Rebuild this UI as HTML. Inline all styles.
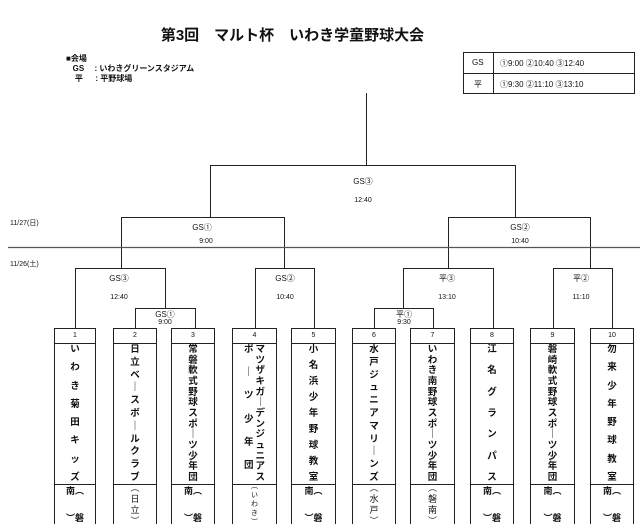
<!DOCTYPE html>
<html><head><meta charset="utf-8">
<style>
html,body{margin:0;padding:0;background:#fff;}
body{width:640px;height:532px;position:relative;overflow:hidden;font-family:"Liberation Sans","Noto Sans CJK JP",sans-serif;color:#111;}
.t{position:absolute;white-space:nowrap;}
.c{position:absolute;transform:translateX(-50%);white-space:nowrap;font-size:7px;}
.box{position:absolute;top:328px;width:42px;height:196px;border:1px solid #222;border-bottom:none;box-sizing:border-box;}
.hd{height:14px;border-bottom:1px solid #222;font-size:7px;text-align:center;line-height:14px;}
.nm{height:141px;border-bottom:1px solid #222;display:flex;flex-direction:column;justify-content:space-between;align-items:center;font-size:9.5px;font-weight:bold;line-height:10px;padding:1px 0;box-sizing:border-box;}
.ft{height:40px;display:flex;flex-direction:column;justify-content:space-between;align-items:center;font-size:9px;font-weight:bold;line-height:10px;padding:1px 0 2px;box-sizing:border-box;}
.ft.p{justify-content:center;gap:1px;font-weight:normal;}
</style></head><body>
<div class="t" style="left:0;width:585px;text-align:center;top:24px;font-size:15px;font-weight:bold;">第3回　マルト杯　いわき学童野球大会</div>
<div class="t" style="left:66px;top:54px;font-size:8px;line-height:10px;font-weight:bold;">■会場<br>&nbsp;&nbsp;&nbsp;GS　&nbsp;: いわきグリーンスタジアム<br>&nbsp;&nbsp;&nbsp;&nbsp;平　&nbsp;&nbsp;: 平野球場</div>
<div style="position:absolute;left:463px;top:52px;width:172px;height:42px;border:1px solid #222;box-sizing:border-box;">
 <div style="position:absolute;left:29px;top:0;bottom:0;border-left:1px solid #222;"></div>
 <div style="position:absolute;left:0;right:0;top:20px;border-top:1px solid #222;"></div>
 <div class="t" style="left:8px;top:5px;font-size:8px;">GS</div>
 <div class="t" style="left:36px;top:5px;font-size:8px;">①9:00 ②10:40 ③12:40</div>
 <div class="t" style="left:10px;top:26px;font-size:8px;">平</div>
 <div class="t" style="left:36px;top:26px;font-size:8px;">①9:30 ②11:10 ③13:10</div>
</div>
<svg width="640" height="532" style="position:absolute;left:0;top:0" fill="none" stroke="#222" stroke-width="1">
<path d="M366.5 93V165.5M210.5 217V165.5H515.5V217"/>
<path d="M121.5 268V217.5H284.5V268M448.5 268V217.5H590.5V268"/>
<path d="M8 247.5H640" stroke="#555" stroke-width="1.3"/>
<path d="M75.5 328V268.5H165.5V308M255.5 328V268.5H314.5V328M403.5 308V268.5H493.5V328M553.5 328V268.5H612.5V328"/>
<path d="M135.5 328V308.5H195.5V328M374.5 328V308.5H433.5V328"/>
</svg>
<div class="t" style="left:10px;top:218px;font-size:7px;">11/27(日)</div>
<div class="t" style="left:10px;top:259px;font-size:7px;">11/26(土)</div>
<div class="c" style="left:363px;top:176px;font-size:8px;">GS③</div><div class="c" style="left:363px;top:197px;">12:40</div>
<div class="c" style="left:202px;top:222px;font-size:8px;">GS①</div><div class="c" style="left:206px;top:238px;">9:00</div>
<div class="c" style="left:520px;top:222px;font-size:8px;">GS②</div><div class="c" style="left:520px;top:238px;">10:40</div>
<div class="c" style="left:119px;top:273px;font-size:8px;">GS③</div><div class="c" style="left:119px;top:294px;">12:40</div>
<div class="c" style="left:285px;top:273px;font-size:8px;">GS②</div><div class="c" style="left:285px;top:294px;">10:40</div>
<div class="c" style="left:447px;top:273px;font-size:8px;">平③</div><div class="c" style="left:447px;top:294px;">13:10</div>
<div class="c" style="left:581px;top:273px;font-size:8px;">平②</div><div class="c" style="left:581px;top:294px;">11:10</div>
<div class="c" style="left:165px;top:309px;font-size:8px;">GS①</div><div class="c" style="left:165px;top:319px;">9:00</div>
<div class="c" style="left:404px;top:309px;font-size:8px;">平①</div><div class="c" style="left:404px;top:319px;">9:30</div>

<div class="box" style="left:54px"><div class="hd">1</div><div class="nm"><span>い</span><span>わ</span><span>き</span><span>菊</span><span>田</span><span>キ</span><span>ッ</span><span>ズ</span></div><div class="ft"><span>南︵</span><span>︶磐</span></div></div>
<div class="box" style="left:113px;width:44px"><div class="hd">2</div><div class="nm"><span>日</span><span>立</span><span>ベ</span><span>｜</span><span>ス</span><span>ボ</span><span>｜</span><span>ル</span><span>ク</span><span>ラ</span><span>ブ</span></div><div class="ft p"><span>︵</span><span>日</span><span>立</span><span>︶</span></div></div>
<div class="box" style="left:171px;width:44px"><div class="hd">3</div><div class="nm"><span>常</span><span>磐</span><span>軟</span><span>式</span><span>野</span><span>球</span><span>ス</span><span>ポ</span><span>｜</span><span>ツ</span><span>少</span><span>年</span><span>団</span></div><div class="ft"><span>南︵</span><span>︶磐</span></div></div>
<div class="box" style="left:232px;width:45px"><div class="hd">4</div><div class="nm" style="flex-direction:row;justify-content:center;align-items:stretch;gap:2px"><div style="display:flex;flex-direction:column;justify-content:space-between;align-items:center;padding-bottom:12px"><span>ポ</span><span>｜</span><span>ツ</span><span>少</span><span>年</span><span>団</span></div><div style="display:flex;flex-direction:column;justify-content:space-between;align-items:center"><span>マ</span><span>ツ</span><span>ザ</span><span>キ</span><span>ガ</span><span>｜</span><span>デ</span><span>ン</span><span>ジ</span><span>ュ</span><span>ニ</span><span>ア</span><span>ス</span></div></div><div class="ft p" style="font-size:7px;line-height:8px"><span>︵</span><span>い</span><span>わ</span><span>き</span><span>︶</span></div></div>
<div class="box" style="left:291px;width:45px"><div class="hd">5</div><div class="nm"><span>小</span><span>名</span><span>浜</span><span>少</span><span>年</span><span>野</span><span>球</span><span>教</span><span>室</span></div><div class="ft"><span>南︵</span><span>︶磐</span></div></div>
<div class="box" style="left:352px;width:44px"><div class="hd">6</div><div class="nm"><span>水</span><span>戸</span><span>ジ</span><span>ュ</span><span>ニ</span><span>ア</span><span>マ</span><span>リ</span><span>｜</span><span>ン</span><span>ズ</span></div><div class="ft p"><span>︵</span><span>水</span><span>戸</span><span>︶</span></div></div>
<div class="box" style="left:410px;width:45px"><div class="hd">7</div><div class="nm"><span>い</span><span>わ</span><span>き</span><span>南</span><span>野</span><span>球</span><span>ス</span><span>ポ</span><span>｜</span><span>ツ</span><span>少</span><span>年</span><span>団</span></div><div class="ft p"><span>︵</span><span>磐</span><span>南</span><span>︶</span></div></div>
<div class="box" style="left:470px;width:44px"><div class="hd">8</div><div class="nm"><span>江</span><span>名</span><span>グ</span><span>ラ</span><span>ン</span><span>パ</span><span>ス</span></div><div class="ft"><span>南︵</span><span>︶磐</span></div></div>
<div class="box" style="left:530px;width:45px"><div class="hd">9</div><div class="nm"><span>磐</span><span>崎</span><span>軟</span><span>式</span><span>野</span><span>球</span><span>ス</span><span>ポ</span><span>｜</span><span>ツ</span><span>少</span><span>年</span><span>団</span></div><div class="ft"><span>南︵</span><span>︶磐</span></div></div>
<div class="box" style="left:590px;width:44px"><div class="hd">10</div><div class="nm"><span>勿</span><span>来</span><span>少</span><span>年</span><span>野</span><span>球</span><span>教</span><span>室</span></div><div class="ft"><span>南︵</span><span>︶磐</span></div></div>
</body></html>
